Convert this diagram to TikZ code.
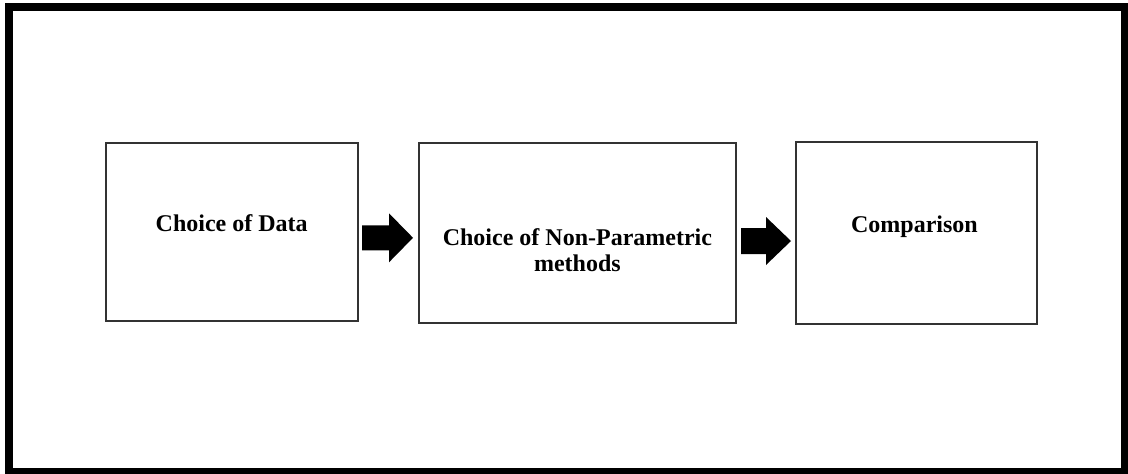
\documentclass[tikz,border=0pt]{standalone}
\usepackage{fontspec}
\setmainfont{Liberation Serif}
\usetikzlibrary{calc}
\tikzset{
  stepbox/.style={draw=black!80, line width=1.8pt, fill=none},
  lbl/.style={font=\bfseries\fontsize{24}{26.5}\selectfont, anchor=base, inner sep=0pt, align=center},
  blockarrow/.style={fill=black, draw=none}
}
\begin{document}
\begin{tikzpicture}[x=1pt,y=-1pt]
\useasboundingbox (0,0) rectangle (1128,474);
\fill[white] (0,0) rectangle (1128,474);
% outer frame
\draw[line width=8pt] (9,7) rectangle (1125,472);
% boxes
\draw[stepbox] (106,143) rectangle (358,321.3) coordinate (b1se);
\coordinate (b1) at (232,232);
\draw[stepbox] (419.3,143.3) rectangle (736,322.7);
\coordinate (b2) at (577.6,233);
\draw[stepbox] (796,142) rectangle (1037.3,324);
\coordinate (b3) at (916.6,233);
% labels
\node[lbl] (t1) at (231.7,231.5) {Choice of Data};
\node[lbl] (t2a) at (577.4,245) {Choice of Non-Parametric};
\node[lbl] (t2b) at (577.4,271.5) {methods};
\node[lbl] (t3) at (914.5,232.2) {Comparison};
% arrows
\coordinate (a1s) at (362,237.8);
\coordinate (a1e) at (413,237.8);
\fill[blockarrow] (a1s) ++(0,-12.5) -- ++(27,0) -- ++(0,-12) -- (a1e) -- ++(-24,24.5) -- ++(0,-12) -- ++(-27,0) -- cycle;
\coordinate (a2s) at (741,241);
\coordinate (a2e) at (791,241);
\fill[blockarrow] (a2s) ++(0,-13) -- ++(25,0) -- ++(0,-11) -- (a2e) -- ++(-25,24) -- ++(0,-11) -- ++(-25,0) -- cycle;
\end{tikzpicture}
\end{document}
